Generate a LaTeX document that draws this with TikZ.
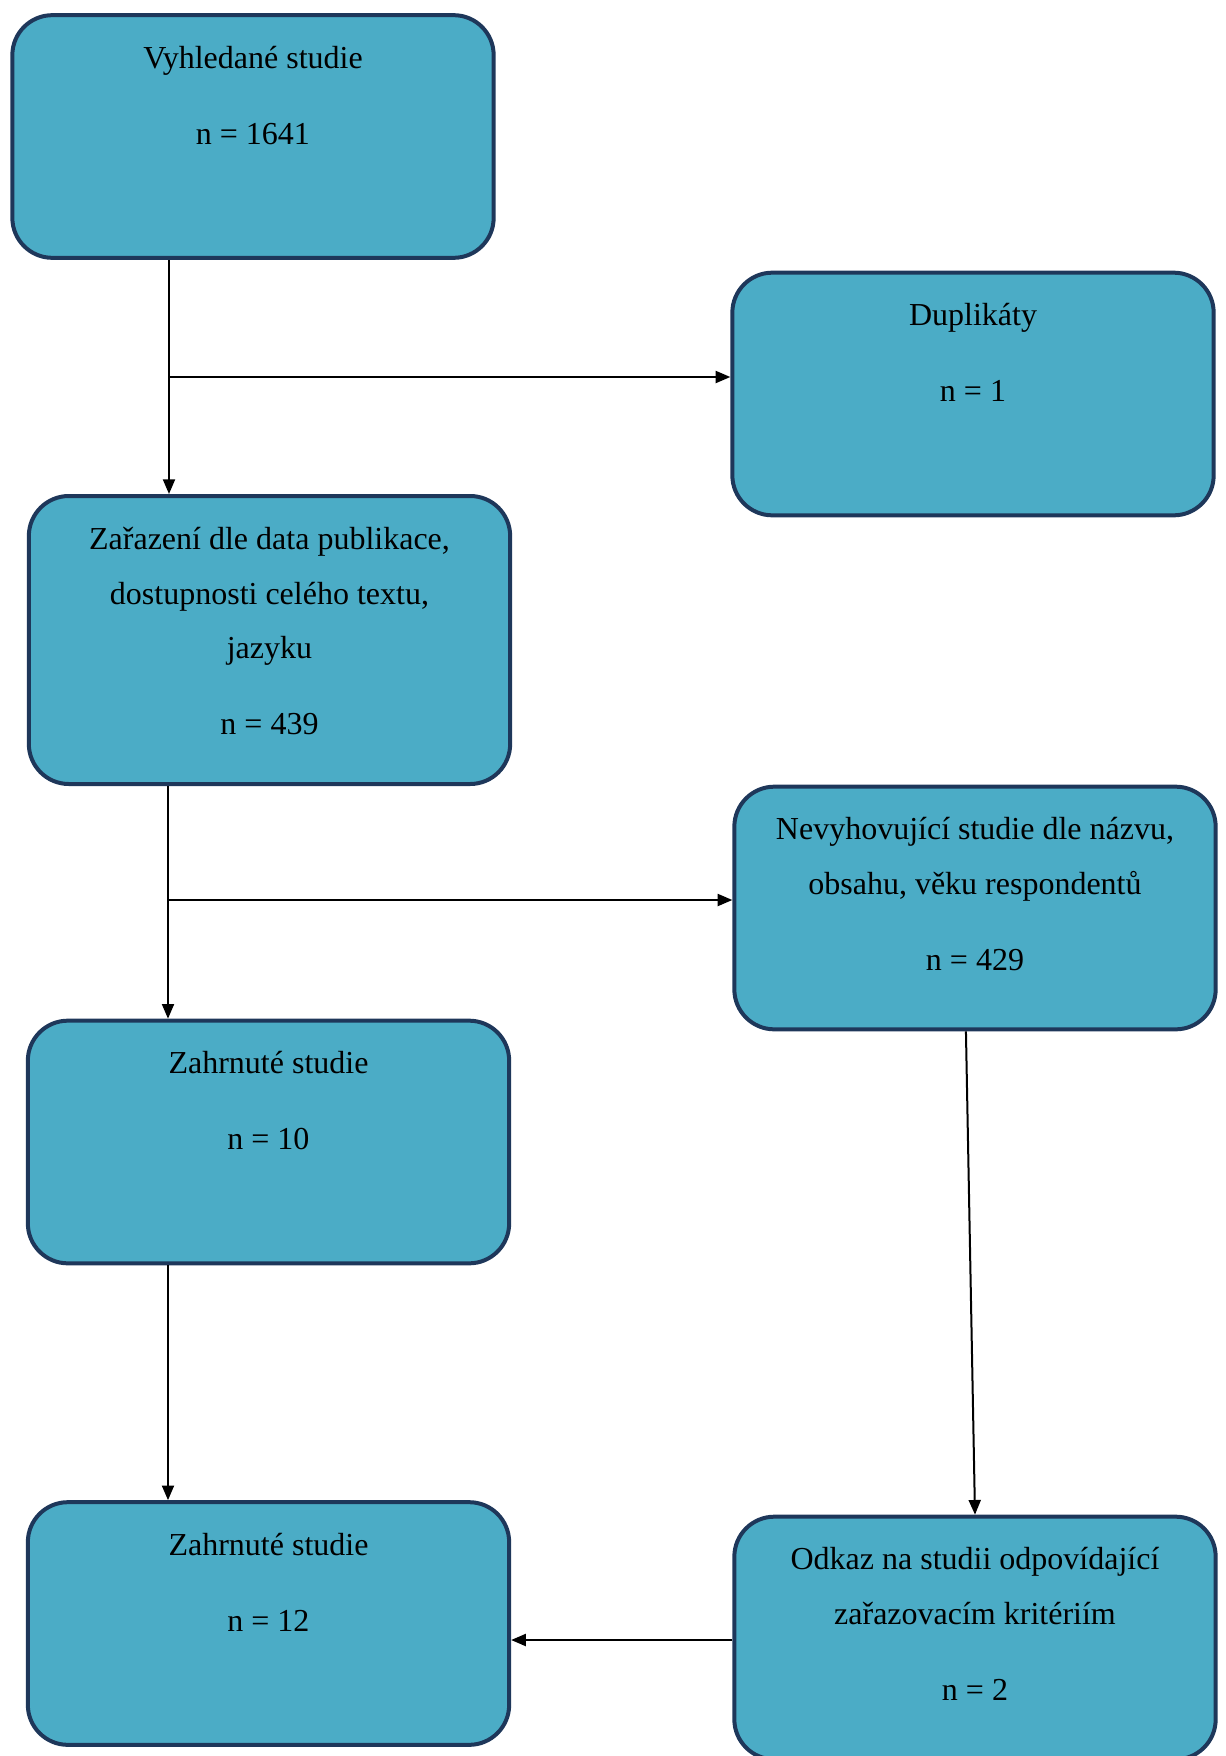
\documentclass[tikz,border=0pt]{standalone}
\usepackage{fontspec}
\setmainfont{Liberation Serif}
\usepackage{tikz}
\usetikzlibrary{arrows.meta}
\definecolor{boxfill}{RGB}{75, 172, 198}
\definecolor{boxline}{RGB}{30, 55, 90}

\begin{document}
\begin{tikzpicture}[x=0.375pt, y=-0.375pt,
  box/.style={draw=boxline, fill=boxfill, line width=1.5pt, rounded corners=15pt,
    minimum width=180.5pt, minimum height=91pt, inner sep=0pt},
  txt/.style={anchor=north, align=center, inner sep=0pt,
    font=\fontsize{12}{20.6}\selectfont, execute at begin node=\strut},
  arr/.style={-{Triangle[length=5.5pt, width=4.5pt]}, line width=0.75pt}]
  \useasboundingbox (0,0) rectangle (1225,1756);
  \node[box] (b1) at (253,136.5) {};
  \node[box] (b2) at (973,394) {};
  \node[box, minimum height=108pt] (b3) at (269.5,640) {};
  \node[box] (b4) at (975,908) {};
  \node[box] (b5) at (268.5,1142) {};
  \node[box] (b6) at (268.5,1623.5) {};
  \node[box] (b7) at (975,1638) {};
  \node[txt] (t1) at ([yshift=-12.1pt]b1.north) {Vyhledané studie\\[7.9pt] n = 1641};
  \node[txt] (t2) at ([yshift=-12.1pt]b2.north) {Duplikáty\\[7.9pt] n = 1};
  \node[txt] (t3) at ([yshift=-12.1pt]b3.north) {Zařazení dle data publikace,\\ dostupnosti celého textu,\\ jazyku\\[7.9pt] n = 439};
  \node[txt] (t4) at ([yshift=-12.1pt]b4.north) {Nevyhovující studie dle názvu,\\ obsahu, věku respondentů\\[7.9pt] n = 429};
  \node[txt] (t5) at ([yshift=-12.1pt]b5.north) {Zahrnuté studie\\[7.9pt] n = 10};
  \node[txt] (t6) at ([yshift=-12.1pt]b6.north) {Zahrnuté studie\\[7.9pt] n = 12};
  \node[txt] (t7) at ([yshift=-12.1pt]b7.north) {Odkaz na studii odpovídající\\ zařazovacím kritériím\\[7.9pt] n = 2};
  \coordinate (j1) at (169,377);
  \coordinate (j2) at (168,900);
  \coordinate (j3) at (600,1640);
  \draw[arr] (b1.south -| j1) -- (b3.north -| j1);
  \draw[arr] (j1) -- (b2.west |- j1);
  \draw[arr] (b3.south -| j2) -- (b5.north -| j2);
  \draw[arr] (j2) -- (b4.west |- j2);
  \draw[arr] (b5.south -| j2) -- (b6.north -| j2);
  \draw[arr] ([xshift=-3.4pt]b4.south) -- (b7.north);
  \draw[arr] (b7.west |- j3) -- (b6.east |- j3);
\end{tikzpicture}
\end{document}
